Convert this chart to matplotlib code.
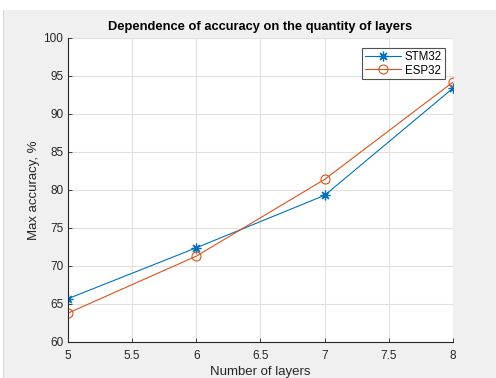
import matplotlib
matplotlib.use("Agg")
import matplotlib.pyplot as plt
from matplotlib.patches import Rectangle

# データ
layers = [5, 6, 7, 8]
stm32_acc = [65.7, 72.4, 79.3, 93.4]
esp32_acc = [63.8, 71.3, 81.4, 94.2]

COLOR_STM = "#0072bd"
COLOR_ESP = "#d95319"
BG_GREY = "#f0f0f0"
TXT = "#262626"

plt.rcParams["font.family"] = ["Liberation Sans", "DejaVu Sans"]

W, H = 496, 378
fig = plt.figure(figsize=(W / 100, H / 100), dpi=100, facecolor=BG_GREY)
# スクリーンショットの白い余白 (上と左)
fig.patches.append(Rectangle((0, 1 - 10 / H), 1, 10 / H, transform=fig.transFigure,
                             facecolor="white", edgecolor="none"))
fig.patches.append(Rectangle((0, 0), 3 / W, 1, transform=fig.transFigure,
                             facecolor="white", edgecolor="none"))
fig.patches.append(Rectangle((3 / W, 0), 1 / W, 1 - 10 / H, transform=fig.transFigure,
                             facecolor="#d8d8d8", edgecolor="none"))

left, right, top, bottom = 68, 453, 38, 342
ax = fig.add_axes([left / W, 1 - bottom / H, (right - left) / W, (bottom - top) / H])
ax.set_facecolor("white")

# MATLAB風のアスタリスク (4本線)
ax.plot(layers, stm32_acc, color=COLOR_STM, marker=(8, 2, 0), markersize=7, markeredgewidth=0.9,
        linewidth=0.8, label="STM32")
ax.plot(layers, esp32_acc, color=COLOR_ESP, marker="o", markersize=6.5, markerfacecolor="none",
        markeredgewidth=0.8, linewidth=0.8, label="ESP32")

ax.set_xlim(5, 8)
ax.set_ylim(60, 100)
ax.set_xticks([5, 5.5, 6, 6.5, 7, 7.5, 8])
ax.set_xticklabels(["5", "5.5", "6", "6.5", "7", "7.5", "8"])
ax.set_yticks(range(60, 101, 5))
ax.grid(True, color="#e1e1e1", linewidth=0.8)
ax.set_axisbelow(True)

for side in ["top", "right"]:
    ax.spines[side].set_visible(False)
for side in ["left", "bottom"]:
    ax.spines[side].set_color(TXT)
    ax.spines[side].set_linewidth(0.8)
ax.tick_params(direction="in", length=3, colors=TXT, labelsize=8.5, width=0.6)
ax.tick_params(axis="x", pad=6)

ax.set_title("Dependence of accuracy on the quantity of layers", fontsize=9.3,
             fontweight="bold", color="black", pad=6)
ax.set_xlabel("Number of layers", fontsize=9.5, color=TXT, labelpad=3)
ax.set_ylabel("Max accuracy, %", fontsize=9.5, color=TXT, labelpad=2)

leg = ax.legend(loc="upper right", bbox_to_anchor=(0.985, 0.975), fontsize=8.3, frameon=True,
                fancybox=False, edgecolor="#262626", handlelength=3.2, borderpad=0.25,
                labelspacing=0.15, handletextpad=0.3, borderaxespad=0.2)
leg.get_frame().set_linewidth(0.8)

fig.savefig("out.png", dpi=100, facecolor=fig.get_facecolor())
